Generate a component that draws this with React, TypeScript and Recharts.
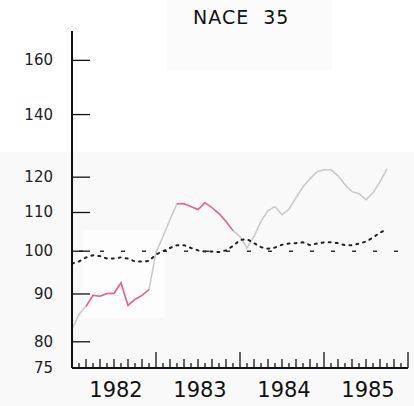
import React from "react";
import { LineChart, Line, XAxis, YAxis, ReferenceLine } from "recharts";

// months counted from Jan 1982
const months = [
  "1982-01", "1982-02", "1982-03", "1982-04", "1982-05", "1982-06", "1982-07", "1982-08", "1982-09", "1982-10", "1982-11", "1982-12",
  "1983-01", "1983-02", "1983-03", "1983-04", "1983-05", "1983-06", "1983-07", "1983-08", "1983-09", "1983-10", "1983-11", "1983-12",
  "1984-01", "1984-02", "1984-03", "1984-04", "1984-05", "1984-06", "1984-07", "1984-08", "1984-09", "1984-10", "1984-11", "1984-12",
  "1985-01", "1985-02", "1985-03", "1985-04", "1985-05", "1985-06", "1985-07", "1985-08", "1985-09", "1985-10",
];

const production = [
  82.5, 85.6, 87.3, 89.7, 89.5, 90.1, 90.1, 92.5, 87.5, 88.8, 89.7, 91.0,
  99.7, 103.7, 108.1, 112.4, 112.4, 111.6, 110.8, 112.7, 111.3, 109.7, 107.6, 105.2,
  103.7, 100.8, 103.7, 107.6, 110.5, 111.6, 109.4, 110.9, 114.1, 117.2, 119.5, 121.6,
  122.2, 122.2, 120.4, 117.8, 115.8, 115.2, 113.5, 115.5, 118.6, 122.5,
];

// stretches of the production line drawn in pink
const pinkMonths = [2, 3, 4, 5, 6, 7, 8, 9, 10, 11, 15, 16, 17, 18, 19, 20, 21, 22, 23];

const trend = [
  97.0, 97.5, 98.5, 99.0, 98.8, 98.2, 98.2, 98.5, 98.2, 97.5, 97.5, 97.6,
  99.2, 100.0, 100.8, 101.5, 101.5, 100.8, 100.2, 99.9, 99.9, 99.8, 100.2, 101.3,
  102.8, 103.0, 102.0, 101.0, 100.6, 100.9, 101.6, 101.9, 102.0, 102.2, 101.5, 101.9,
  102.2, 102.2, 102.0, 101.5, 101.5, 101.9, 102.4, 103.4, 104.7, 105.5,
];

const yTicks = [75, 80, 90, 100, 110, 120, 140, 160];
const years = ["1982", "1983", "1984", "1985"];
const monthTicks = [
  0, 1, 2, 3, 4, 5, 6, 7, 8, 9, 10, 11, 12, 13, 14, 15, 16, 17, 18, 19, 20, 21, 22, 23, 24,
  25, 26, 27, 28, 29, 30, 31, 32, 33, 34, 35, 36, 37, 38, 39, 40, 41, 42, 43, 44, 45, 46, 47, 48,
];

const data = months.map((m, i) => ({
  m,
  x: i,
  prod: production[i],
  pink: pinkMonths.includes(i) ? production[i] : null,
  trend: trend[i],
}));

const font = "'DejaVu Sans', sans-serif";

const MonthTick = (props: any) => {
  const { x, y, payload } = props;
  const v = payload.value;
  const len = v % 12 === 0 ? 16 : v % 2 === 0 ? 9 : 5;
  const label = v % 12 === 6 ? years[Math.floor(v / 12)] : null;
  return (
    <g>
      {v > 0 && <line x1={x} x2={x} y1={y} y2={y - len} stroke="#111" strokeWidth={1.3} />}
      {label && (
        <text x={x + 2} y={y + 29} textAnchor="middle" fontSize={21} fill="#111" fontFamily={font}>
          {label}
        </text>
      )}
    </g>
  );
};

const ValueTick = (props: any) => {
  const { x, y, payload } = props;
  const v = payload.value;
  return (
    <g>
      {v !== 75 && <line x1={x} x2={x + 18} y1={y} y2={y} stroke="#111" strokeWidth={1.3} />}
      <text x={x - 19} y={y + 5} textAnchor="end" fontSize={15} fill="#222" fontFamily={font}>
        {v}
      </text>
    </g>
  );
};

export default function App() {
  return (
    <div style={{ position: "absolute", left: 0, top: 0, width: 414, height: 406, background: "#fff" }}>
      <div style={{ position: "absolute", left: 0, top: 152, width: 414, height: 254, background: "#f9f9f9" }} />
      <div style={{ position: "absolute", left: 83, top: 230, width: 82, height: 88, background: "#fdfdfd" }} />
      <div style={{ position: "absolute", left: 167, top: 0, width: 165, height: 70, background: "#fbfbfb" }} />
      <div
        style={{
          position: "absolute",
          left: 193,
          top: 6,
          fontFamily: font,
          fontSize: 19,
          letterSpacing: 1,
          color: "#111",
          whiteSpace: "pre",
        }}
      >
        NACE  35
      </div>
      <div style={{ position: "absolute", left: 0, top: 0 }}>
        <LineChart width={414} height={406} data={data} margin={{ top: 31, right: 6, left: 0, bottom: 0 }}>
          <XAxis
            dataKey="x"
            type="number"
            domain={[0, 48]}
            ticks={monthTicks}
            interval={0}
            height={38}
            tickSize={0}
            tickMargin={0}
            tickLine={false}
            tick={<MonthTick />}
            axisLine={{ stroke: "#111", strokeWidth: 2 }}
          />
          <YAxis
            scale="log"
            type="number"
            domain={[75, 172]}
            allowDataOverflow
            ticks={yTicks}
            interval={0}
            width={72}
            tickSize={0}
            tickMargin={0}
            tickLine={false}
            tick={<ValueTick />}
            axisLine={{ stroke: "#111", strokeWidth: 2 }}
          />
          <ReferenceLine
            y={100}
            stroke="#333"
            strokeWidth={1.5}
            strokeDasharray="4 17"
            strokeDashoffset={14}
          />
          <Line
            dataKey="prod"
            stroke="#c8c8c8"
            strokeWidth={1.5}
            dot={false}
            isAnimationActive={false}
            type="linear"
          />
          <Line
            dataKey="pink"
            stroke="#ee6088"
            strokeWidth={1.5}
            dot={false}
            isAnimationActive={false}
            type="linear"
          />
          <Line
            dataKey="trend"
            stroke="#222"
            strokeWidth={2}
            strokeDasharray="2 5"
            strokeLinecap="round"
            dot={false}
            isAnimationActive={false}
            type="linear"
          />
        </LineChart>
      </div>
    </div>
  );
}
